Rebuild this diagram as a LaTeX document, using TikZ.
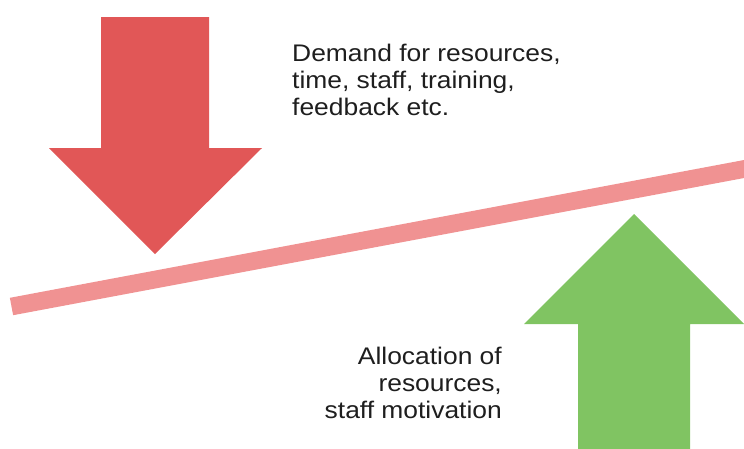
\documentclass[tikz,border=0pt]{standalone}
\usepackage{fontspec}
\setmainfont{Liberation Sans}[FakeStretch=1.1]
\definecolor{arrowred}{HTML}{E15757}
\definecolor{beamred}{HTML}{F09292}
\definecolor{arrowgreen}{HTML}{80C462}
\definecolor{txt}{HTML}{1E1E1E}
\begin{document}
\begin{tikzpicture}[x=1pt,y=-1pt,
  lbl/.style={inner sep=0pt, text=txt, font=\fontsize{24}{27}\selectfont}]
\useasboundingbox (0,0) rectangle (744,448);
\begin{scope}
\clip (0,0) rectangle (744,448);
% beam
\coordinate (bl) at (11.5,306.5);
\coordinate (br) at (800,158.5);
\draw[beamred, line width=17.7pt, line cap=butt] (bl) -- (br);
% red arrow
\fill[arrowred] (101,17) -- (209,17) -- (209,148) -- (262,148) -- (155,254) -- (49,148) -- (101,148) -- cycle;
% green arrow
\fill[arrowgreen] (578,460) -- (578,324) -- (524,324) -- (634,214) -- (744,324) -- (690,324) -- (690,460) -- cycle;
\end{scope}
\node[lbl, anchor=north west, align=left] (demand) at (292,44)
  {Demand for resources,\\time, staff, training,\\feedback etc.};
\node[lbl, anchor=north east, align=right] (alloc) at (502,347)
  {Allocation of\\resources,\\staff motivation};
\end{tikzpicture}
\end{document}
